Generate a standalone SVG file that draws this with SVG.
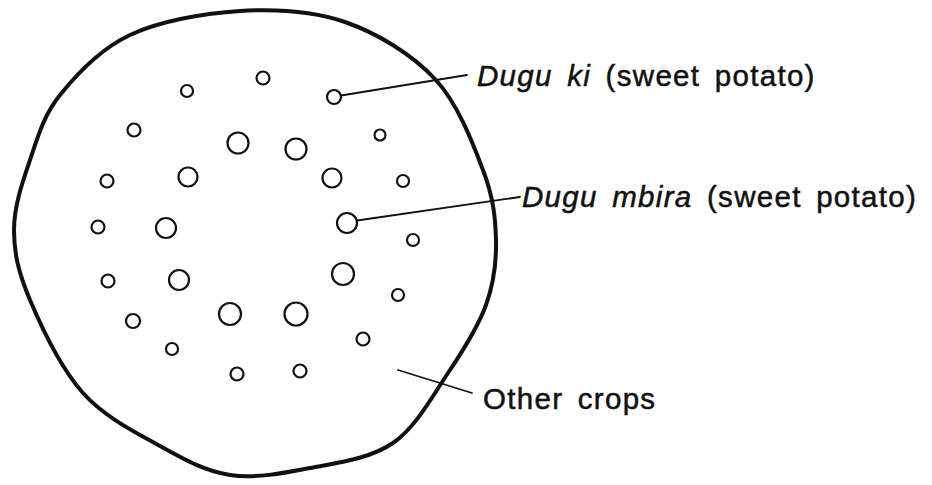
<svg xmlns="http://www.w3.org/2000/svg" width="932" height="485" viewBox="0 0 932 485">
  <style>
    .field { fill: none; stroke: #111; stroke-width: 4; stroke-linejoin: round; }
    .plant { fill: none; stroke: #111; stroke-width: 2.2; }
    .lead { fill: none; stroke: #111; stroke-width: 1.8; stroke-linecap: round; }
    .label { font-family: "Liberation Sans", Arial, sans-serif; font-size: 29.5px; fill: #111; stroke: #111; stroke-width: 0.5px; letter-spacing: 1.3px; word-spacing: 5px; }
    .it { font-style: italic; }
  </style>
  <rect x="0" y="0" width="932" height="485" fill="#ffffff"/>

  <!-- field boundary -->
  <g id="field">
    <path class="field" d="M240,11 C275.8,8.8 312.5,10.7 345,22 C377.5,33.3 412,54.3 435,79 C458,103.7 472.8,143.2 483,170 C493.2,196.8 495.5,217.5 496,240 C496.5,262.5 494,282.8 486,305 C478,327.2 463.5,350 448,373 C432.5,396 416,427.2 393,443 C370,458.8 337.2,462.7 310,468 C282.8,473.3 255,478.7 230,475 C205,471.3 184.5,459.7 160,446 C135.5,432.3 104.7,417.3 83,393 C61.3,368.7 41.5,327.2 30,300 C18.5,272.8 14,253.3 14,230 C14,206.7 22.3,182.5 30,160 C37.7,137.5 43.3,115.8 60,95 C76.7,74.2 100,49 130,35 C160,21 204.2,13.2 240,11 Z"/>
  </g>

  <!-- outer ring: dugu ki -->
  <g id="dugu-ki">
    <circle class="plant" cx="187" cy="91" r="6"/>
    <circle class="plant" cx="263" cy="78" r="6.5"/>
    <circle class="plant" cx="334" cy="97" r="7"/>
    <circle class="plant" cx="134" cy="130" r="6.5"/>
    <circle class="plant" cx="380" cy="135" r="5.5"/>
    <circle class="plant" cx="107" cy="181" r="6.5"/>
    <circle class="plant" cx="403" cy="181" r="6"/>
    <circle class="plant" cx="98" cy="227" r="6.5"/>
    <circle class="plant" cx="413" cy="240" r="6"/>
    <circle class="plant" cx="108" cy="281" r="6.5"/>
    <circle class="plant" cx="398" cy="295" r="6"/>
    <circle class="plant" cx="133" cy="321" r="7"/>
    <circle class="plant" cx="363" cy="339" r="6.5"/>
    <circle class="plant" cx="172" cy="349" r="6"/>
    <circle class="plant" cx="237" cy="374" r="6.5"/>
    <circle class="plant" cx="300" cy="371" r="6.5"/>
  </g>

  <!-- inner ring: dugu mbira -->
  <g id="dugu-mbira">
    <circle class="plant" cx="238" cy="143" r="10.5"/>
    <circle class="plant" cx="296" cy="149" r="10.5"/>
    <circle class="plant" cx="188" cy="177" r="9.5"/>
    <circle class="plant" cx="332" cy="178" r="9.5"/>
    <circle class="plant" cx="166" cy="228" r="10"/>
    <circle class="plant" cx="347" cy="223" r="10"/>
    <circle class="plant" cx="179" cy="280" r="10"/>
    <circle class="plant" cx="343" cy="274" r="11"/>
    <circle class="plant" cx="230" cy="314" r="11"/>
    <circle class="plant" cx="296" cy="314" r="11.5"/>
  </g>

  <!-- leader lines -->
  <g id="connectors">
    <line class="lead" x1="341" y1="95.5" x2="467" y2="75"/>
    <line class="lead" x1="357" y1="220.5" x2="520" y2="197"/>
    <line class="lead" x1="398" y1="370" x2="472" y2="393"/>
  </g>

  <g id="label-dugu-ki">
    <text class="label" x="477" y="86"><tspan class="it">Dugu ki</tspan> (sweet potato)</text>
  </g>
  <g id="label-dugu-mbira">
    <text class="label" x="522" y="207"><tspan class="it">Dugu mbira</tspan> (sweet potato)</text>
  </g>
  <g id="label-other">
    <text class="label" x="483" y="409">Other crops</text>
  </g>
</svg>
